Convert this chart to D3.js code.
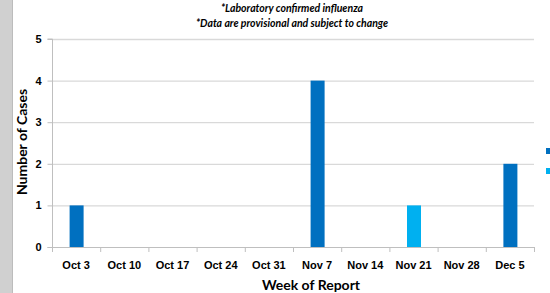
<!DOCTYPE html>
<html><head><meta charset="utf-8">
<script src="https://cdn.jsdelivr.net/npm/d3@7"></script>
<style>html,body{margin:0;padding:0;background:#fff;overflow:hidden}svg{display:block;font-family:Lato,"Open Sans",sans-serif}</style>
</head><body>
<svg id="c" width="550" height="293"></svg>
<script>
const weeks = ["Oct 3","Oct 10","Oct 17","Oct 24","Oct 31","Nov 7","Nov 14","Nov 21","Nov 28","Dec 5"];
const seriesKeys = ["a","b"];
const seriesA = [1,0,0,0,0,4,0,0,0,2];
const seriesB = [0,0,0,0,0,0,0,1,0,0];
const yTicks = [0,1,2,3,4,5];
const colors = ["#0070C0","#00B0F0"];

const svg = d3.select("#c");
svg.append("rect").attr("x",0).attr("y",0).attr("width",12).attr("height",293).attr("fill","#d0d0d0");
svg.append("line").attr("x1",12.5).attr("x2",12.5).attr("y1",0).attr("y2",293).attr("stroke","#bcbcbc");

const L=52, R=534, T=39, B=247;
const x = d3.scaleBand().domain(weeks).range([L,R]).paddingInner(0).paddingOuter(0);
const y = d3.scaleLinear().domain([0,5]).range([B,T]);

// gridlines
svg.append("g").selectAll("line").data(yTicks.filter(d=>d>0)).join("line")
  .attr("x1",L).attr("x2",R).attr("y1",d=>y(d)+0.5).attr("y2",d=>y(d)+0.5)
  .attr("stroke","#d9d9d9").attr("stroke-width",1.3);

// stacked bars
const table = weeks.map((w,i)=>({week:w, a:seriesA[i], b:seriesB[i]}));
const stack = d3.stack().keys(seriesKeys)(table);
const bw = 14;
svg.append("g").selectAll("g").data(stack).join("g").attr("fill",(d,i)=>colors[i])
  .selectAll("rect").data(d=>d.filter(s=>s[1]-s[0]>0)).join("rect")
  .attr("x",d=>x(d.data.week)+x.bandwidth()/2-bw/2+0.5).attr("width",bw)
  .attr("y",d=>y(d[1])).attr("height",d=>y(d[0])-y(d[1]));

// y axis
const ya = svg.append("g").attr("transform",`translate(${L+0.5},0)`)
  .call(d3.axisLeft(y).tickValues(yTicks).tickSize(5).tickPadding(6).tickFormat(d3.format("d")));
ya.select(".domain").attr("stroke","#bfbfbf").attr("d",`M-5,${B+0.5}H0V${T}H-5`);
ya.selectAll(".tick line").attr("stroke","#bfbfbf");
ya.selectAll("text").attr("font-size",11).attr("font-weight","bold").attr("fill","#000");

// x axis
const xa = svg.append("g").attr("transform",`translate(0,${B+0.5})`)
  .call(d3.axisBottom(x).tickSize(0).tickPadding(14));
xa.select(".domain").attr("stroke","#bfbfbf").attr("d",`M${L},0H${R}`);
xa.selectAll("text").attr("font-size",11).attr("font-weight","bold").attr("fill","#000");
svg.append("g").selectAll("line").data(d3.range(weeks.length+1)).join("line")
  .attr("x1",i=>L+i*x.step()+0.5).attr("x2",i=>L+i*x.step()+0.5)
  .attr("y1",B).attr("y2",B+5).attr("stroke","#bfbfbf");

// titles
svg.append("text").attr("x",292).attr("y",12).attr("text-anchor","middle")
  .attr("font-size",10.5).attr("font-weight","bold").attr("font-style","italic").text("*Laboratory confirmed influenza");
svg.append("text").attr("x",292).attr("y",27).attr("text-anchor","middle")
  .attr("font-size",10.5).attr("font-weight","bold").attr("font-style","italic").text("*Data are provisional and subject to change");
svg.append("text").attr("x",311).attr("y",290).attr("text-anchor","middle")
  .attr("font-size",14).attr("font-weight","bold").text("Week of Report");
svg.append("text").attr("transform","translate(27,142) rotate(-90)").attr("text-anchor","middle")
  .attr("font-size",14).attr("font-weight","bold").text("Number of Cases");

// legend markers (labels lie beyond the visible area)
svg.append("g").attr("transform","translate(546,148)").selectAll("rect").data(seriesKeys).join("rect")
  .attr("x",0).attr("y",(d,i)=>i*20).attr("width",6).attr("height",6).attr("fill",(d,i)=>colors[i]);
</script>
</body></html>
